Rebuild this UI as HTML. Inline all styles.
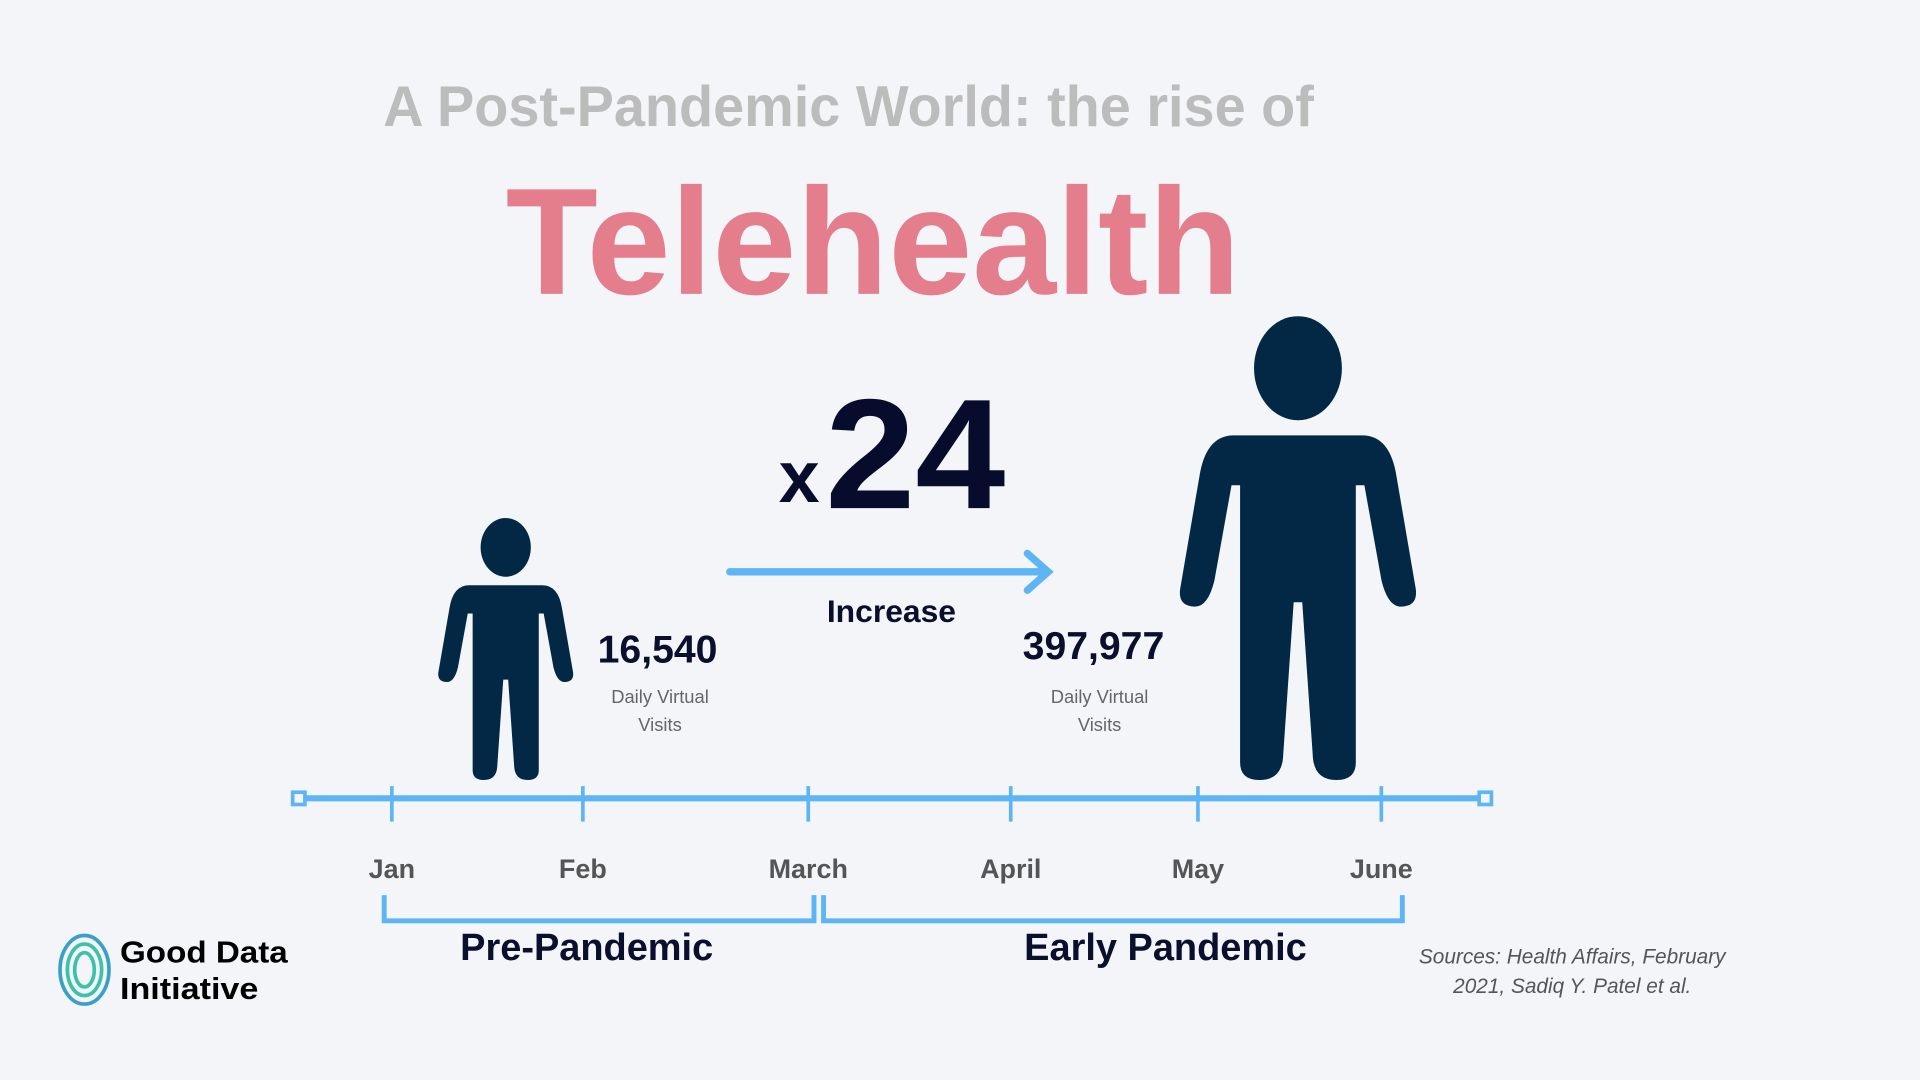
<!DOCTYPE html>
<html><head><meta charset="utf-8"><style>
html,body{margin:0;padding:0;background:#f3f5f9;}
svg{display:block;font-family:"Liberation Sans",sans-serif;}
</style></head><body>
<svg id="chart" width="1920" height="1080" viewBox="0 0 1568 882" xmlns="http://www.w3.org/2000/svg">
<rect width="1568" height="882" fill="#f3f5f9"/>
<text x="313" y="103" font-size="47" font-weight="bold" fill="#bcbcbc" textLength="760" lengthAdjust="spacingAndGlyphs">A Post-Pandemic World: the rise of</text>
<text x="413" y="240" font-size="124" font-weight="bold" fill="#e47d8c" textLength="600" lengthAdjust="spacingAndGlyphs">Telehealth</text>
<text x="636" y="410" font-size="60" font-weight="bold" fill="#070c2c">x</text>
<text x="674" y="415" font-size="128" font-weight="bold" fill="#070c2c" textLength="147" lengthAdjust="spacingAndGlyphs">24</text>
<g stroke="#5eb5f5" stroke-width="6" fill="none" stroke-linecap="round">
<line x1="596" y1="467" x2="855" y2="467"/>
<polyline points="839,452 856,467 839,482"/>
</g>
<text x="728" y="508" font-size="26" font-weight="bold" fill="#0a0f2e" text-anchor="middle">Increase</text>
<g id="people"></g>
<g id="timeline"></g>
<g>
<ellipse cx="69" cy="792" rx="20" ry="28" fill="none" stroke="#3aa0c8" stroke-width="3"/>
<ellipse cx="69" cy="792" rx="14" ry="21" fill="none" stroke="#3fc1a8" stroke-width="3"/>
<ellipse cx="69" cy="792" rx="8" ry="14" fill="none" stroke="#3fc1a8" stroke-width="3"/>
<text x="98" y="786" font-size="25" font-weight="bold" fill="#000" textLength="137" lengthAdjust="spacingAndGlyphs">Good Data</text>
<text x="98" y="816" font-size="25" font-weight="bold" fill="#000" textLength="113" lengthAdjust="spacingAndGlyphs">Initiative</text>
</g>
<g font-size="17" font-style="italic" fill="#555" text-anchor="middle">
<text x="1284" y="787">Sources: Health Affairs, February</text>
<text x="1284" y="811">2021, Sadiq Y. Patel et al.</text>
</g>
<script>
const months = ["Jan","Feb","March","April","May","June"];
const monthPos = [0, 1, 2.18, 3.24, 4.22, 5.18];
const periods = ["Pre-Pandemic","Early Pandemic"];
const periodStart = [-0.04, 2.26];
const periodEnd = [2.21, 5.29];
const periodLabelPos = [1.02, 4.05];
const visitLabels = ["16,540","397,977"];
const visitValues = [16540, 397977];
const NS="http://www.w3.org/2000/svg";
function x(m){return 320 + m*156;}
function mk(tag,attrs,parent){const e=document.createElementNS(NS,tag);for(const k in attrs)e.setAttribute(k,attrs[k]);parent.appendChild(e);return e;}
const tl=document.getElementById('timeline');
const axis=mk('line',{x1:244,y1:652,x2:1213,y2:652,stroke:'#5eb5f5','stroke-width':5},tl);


[244,1213].forEach(cx=>{const r=mk('rect',{x:cx-5,y:647,width:10,height:10,fill:'#f3f5f9',stroke:'#5eb5f5','stroke-width':3},tl);

});
months.forEach((m,i)=>{const px=x(monthPos[i]);
const t=mk('line',{x1:px,y1:642,x2:px,y2:671,stroke:'#5eb5f5','stroke-width':3},tl);


const l=mk('text',{x:px,y:717,'font-size':22,'font-weight':'bold',fill:'#555','text-anchor':'middle'},tl);l.textContent=m;

});
periods.forEach((p,i)=>{const a=x(periodStart[i]),b=x(periodEnd[i]);
const br=mk('polyline',{points:`${a},731 ${a},752 ${b},752 ${b},731`,fill:'none',stroke:'#5eb5f5','stroke-width':4},tl);


const l=mk('text',{x:x(periodLabelPos[i]),y:784,'font-size':31,'font-weight':'bold',fill:'#0a0f2e','text-anchor':'middle'},tl);l.textContent=p;

});
const pg=document.getElementById('people');
function person(cx,sx,sy,name){const g=mk('g',{transform:`translate(${cx},637) scale(${sx},${sy})`,fill:'#022846'},pg);


mk('ellipse',{cx:0,cy:-190,rx:20.5,ry:24},g);
mk('path',{d:'M-30,-159 L30,-159 Q43,-159 46,-140 L55,-88 Q56,-80 48,-80 Q42,-80 39,-92 L31,-136 L27,-136 L27,-8 Q27,0 18,0 Q8,0 7,-10 L2,-82 L-2,-82 L-7,-10 Q-8,0 -18,0 Q-27,0 -27,-8 L-27,-136 L-31,-136 L-39,-92 Q-42,-80 -48,-80 Q-56,-80 -55,-88 L-46,-140 Q-43,-159 -30,-159 Z'},g);}
person(413,1,1,'small-person');
person(1060,1.75,1.77,'large-person');
const vx=[[537,539],[893,898]];const vy=[541,538];
visitLabels.forEach((v,i)=>{const t=mk('text',{x:vx[i][0],y:vy[i],'font-size':32,'font-weight':'bold',fill:'#0a0f2e','text-anchor':'middle'},pg);t.textContent=v;


['Daily Virtual','Visits'].forEach((s,j)=>{const d=mk('text',{x:vx[i][1],y:574+j*23,'font-size':15,fill:'#666','text-anchor':'middle'},pg);d.textContent=s;

});});
</script>
</svg>
</body></html>
